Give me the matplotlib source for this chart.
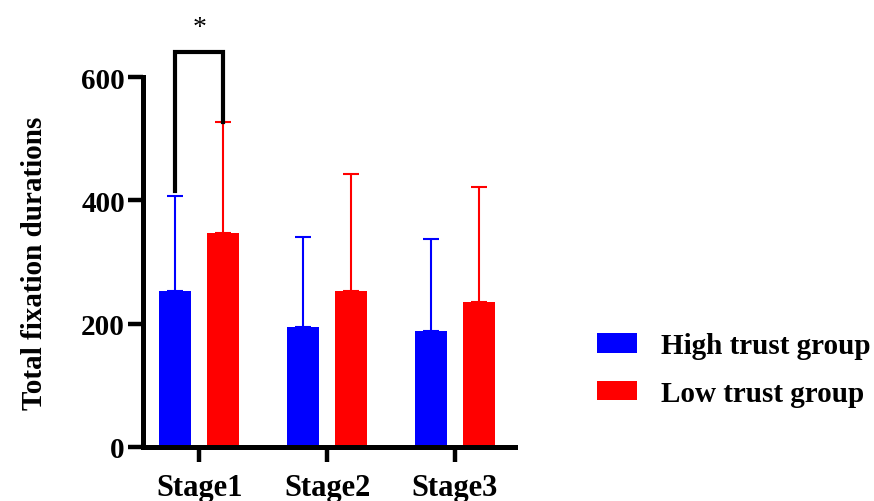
import numpy as np
import matplotlib
matplotlib.use("Agg")
import matplotlib.pyplot as plt
from matplotlib.patches import Patch

plt.rcParams["font.family"] = ["Liberation Serif", "DejaVu Serif"]
plt.rcParams["font.weight"] = "bold"

stages = ["Stage1", "Stage2", "Stage3"]
high_mean = [253, 195, 188]
high_sd = [154, 146, 149]
low_mean = [347, 253, 235]
low_sd = [180, 190, 187]
groups = ["High trust group", "Low trust group"]
colors = ["#0000FF", "#FF0000"]

fig = plt.figure(figsize=(8.74, 5.02), dpi=100)
ax = fig.add_axes([0.1636, 0.1076, 0.4256, 0.737])

x = np.arange(len(stages))
w = 0.25
off = 0.1875

for xs, m, sd, c in [(x - off, high_mean, high_sd, colors[0]),
                     (x + off, low_mean, low_sd, colors[1])]:
    ax.bar(xs, m, width=w, color=c, zorder=2)
    ax.errorbar(xs, m, yerr=[np.zeros(len(m)), sd], fmt="none", ecolor=c,
                elinewidth=1.5, capsize=5.5, capthick=1.5, zorder=1)

ax.set_xlim(-0.44, 2.47)
ax.set_ylim(0, 600)
ax.set_yticks([0, 200, 400, 600])
ax.set_xticks(x)
ax.set_xticklabels(stages, fontsize=22, fontweight="bold")
for lab in ax.get_yticklabels():
    lab.set_fontsize(21)
    lab.set_fontweight("bold")
ax.set_ylabel("Total fixation durations", fontsize=21, fontweight="bold", labelpad=24)

for s in ["top", "right"]:
    ax.spines[s].set_visible(False)
for s in ["left", "bottom"]:
    ax.spines[s].set_linewidth(3.6)
ax.tick_params(axis="both", width=3.2, length=11, pad=2)
ax.tick_params(axis="x", pad=8)

# significance bracket for Stage1
top = 640
y_left = high_mean[0] + high_sd[0] + 8
y_right = low_mean[0] + low_sd[0]
ax.plot([x[0] - off, x[0] - off, x[0] + off, x[0] + off],
        [y_left, top, top, y_right], color="black", lw=3, clip_on=False,
        solid_joinstyle="miter")
ax.text(x[0], 680, "*", ha="center", va="center", fontsize=20, fontweight="normal")

handles = [Patch(facecolor=c) for c in colors]
fig.legend(handles, groups, loc="center left", bbox_to_anchor=(0.683, 0.262),
           frameon=False, prop={"size": 21, "weight": "bold"},
           borderpad=0, borderaxespad=0,
           handlelength=1.38, handleheight=0.65, handletextpad=0.8,
           labelspacing=0.7)

fig.savefig("out.png", dpi=100)
